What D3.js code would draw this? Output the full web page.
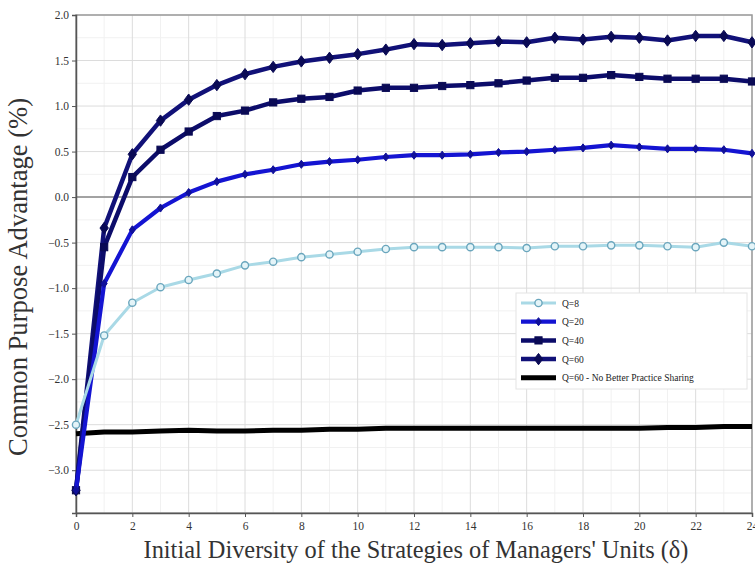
<!DOCTYPE html>
<html>
<head>
<meta charset="utf-8">
<script src="https://cdn.jsdelivr.net/npm/d3@7"></script>
<style>
  body { margin: 0; background: #fff; }
  svg { display: block; font-family: "Liberation Serif", "DejaVu Serif", serif; }
</style>
</head>
<body>
<svg id="chart" width="755" height="565"></svg>
<script>
// Initial diversity δ (x axis)
const delta = d3.range(0, 25);

// Common purpose advantage (%) per number of managers Q
const q8  = [-2.50, -1.52, -1.16, -0.99, -0.91, -0.84, -0.75, -0.71, -0.66, -0.63, -0.60, -0.57, -0.55,
             -0.55, -0.55, -0.55, -0.56, -0.54, -0.54, -0.53, -0.53, -0.54, -0.55, -0.50, -0.54];
const q20 = [-3.22, -0.95, -0.36, -0.12, 0.05, 0.17, 0.25, 0.30, 0.36, 0.39, 0.41, 0.44, 0.46,
             0.46, 0.47, 0.49, 0.50, 0.52, 0.54, 0.57, 0.55, 0.53, 0.53, 0.52, 0.48];
const q40 = [-3.22, -0.55, 0.22, 0.52, 0.72, 0.89, 0.95, 1.04, 1.08, 1.10, 1.17, 1.20, 1.20,
             1.22, 1.23, 1.25, 1.28, 1.31, 1.31, 1.34, 1.32, 1.30, 1.30, 1.30, 1.27];
const q60 = [-3.22, -0.34, 0.47, 0.84, 1.07, 1.23, 1.35, 1.43, 1.49, 1.53, 1.57, 1.62, 1.68,
             1.67, 1.69, 1.71, 1.70, 1.75, 1.73, 1.76, 1.75, 1.72, 1.77, 1.77, 1.70];
const q60NoSharing = [-2.60, -2.58, -2.58, -2.57, -2.56, -2.57, -2.57, -2.56, -2.56, -2.55, -2.55, -2.54, -2.54,
             -2.54, -2.54, -2.54, -2.54, -2.54, -2.54, -2.54, -2.54, -2.53, -2.53, -2.52, -2.52];

const xTicks = d3.range(0, 25, 2);
const yTicks = [-3.0, -2.5, -2.0, -1.5, -1.0, -0.5, 0.0, 0.5, 1.0, 1.5, 2.0];

const seriesNames = ["Q=8", "Q=20", "Q=40", "Q=60", "Q=60 - No Better Practice Sharing"];

const series = [
  { name: seriesNames[0], values: q8,  color: "#a9d9e6", width: 3,   marker: "circle",  mfill: "#e4f4f8", mstroke: "#6aa6bd", msize: 3.6 },
  { name: seriesNames[1], values: q20, color: "#1414d2", width: 4.2, marker: "diamond", mfill: "#10109a", mstroke: "#10109a", msize: 3 },
  { name: seriesNames[2], values: q40, color: "#0c0c6a", width: 4.5, marker: "square",  mfill: "#0a0a55", mstroke: "#0a0a55", msize: 3.6 },
  { name: seriesNames[3], values: q60, color: "#111178", width: 4.5, marker: "diamond", mfill: "#0a0a55", mstroke: "#0a0a55", msize: 4.2 },
  { name: seriesNames[4], values: q60NoSharing, color: "#000000", width: 5, marker: null }
];

const svg = d3.select("#chart");
const margin = { left: 76, right: 3, top: 15, bottom: 52 };
const W = 755, H = 565;

const x = d3.scaleLinear().domain([0, 24]).range([margin.left, W - margin.right]);
const y = d3.scaleLinear().domain([-3.47, 2.0]).range([H - margin.bottom, margin.top]);

// Minor grid
const g = svg.append("g");
g.selectAll("line.vminor").data(d3.range(1, 24, 2)).join("line")
  .attr("x1", d => x(d)).attr("x2", d => x(d))
  .attr("y1", y.range()[0]).attr("y2", y.range()[1])
  .attr("stroke", "#f1f1f1").attr("stroke-width", 1);
g.selectAll("line.hminor").data(d3.range(-3.25, 2.0, 0.5)).join("line")
  .attr("x1", x.range()[0]).attr("x2", x.range()[1])
  .attr("y1", d => y(d)).attr("y2", d => y(d))
  .attr("stroke", "#f1f1f1").attr("stroke-width", 1);

// Major grid
g.selectAll("line.vmajor").data(xTicks).join("line")
  .attr("x1", d => x(d)).attr("x2", d => x(d))
  .attr("y1", y.range()[0]).attr("y2", y.range()[1])
  .attr("stroke", "#dcdcdc").attr("stroke-width", 1);
g.selectAll("line.hmajor").data(yTicks).join("line")
  .attr("x1", x.range()[0]).attr("x2", x.range()[1])
  .attr("y1", d => y(d)).attr("y2", d => y(d))
  .attr("stroke", "#dcdcdc").attr("stroke-width", 1);

// Zero reference line
g.append("line")
  .attr("x1", x.range()[0]).attr("x2", x.range()[1])
  .attr("y1", y(0)).attr("y2", y(0))
  .attr("stroke", "#8a8a8a").attr("stroke-width", 1.5);

// Plot frame
svg.append("rect")
  .attr("x", x.range()[0]).attr("y", y.range()[1])
  .attr("width", x.range()[1] - x.range()[0])
  .attr("height", y.range()[0] - y.range()[1])
  .attr("fill", "none").attr("stroke", "#9a9a9a").attr("stroke-width", 1.5);

// Axes
const xAxis = svg.append("g")
  .attr("transform", `translate(0,${y.range()[0]})`)
  .call(d3.axisBottom(x).tickValues(xTicks).tickSize(4).tickPadding(5).tickFormat(d3.format("d")));
const yAxis = svg.append("g")
  .attr("transform", `translate(${x.range()[0]},0)`)
  .call(d3.axisLeft(y).tickValues(yTicks).tickSize(4).tickPadding(3).tickFormat(d3.format(".1f")));
[xAxis, yAxis].forEach(a => {
  a.attr("font-family", null);
  a.select(".domain").attr("stroke", "#555").attr("stroke-width", 1.5);
  a.selectAll(".tick line").attr("stroke", "#555");
  a.selectAll(".tick text").attr("fill", "#333")
    .style("font-family", "'Liberation Serif', serif").style("font-size", "11.5px");
});

// Series lines and markers
const line = d3.line().x((d, i) => x(delta[i])).y(d => y(d));

function drawMarker(sel, s, cx, cy) {
  const r = s.msize;
  if (s.marker === "circle") {
    sel.append("circle").attr("cx", cx).attr("cy", cy).attr("r", r)
      .attr("fill", s.mfill).attr("stroke", s.mstroke).attr("stroke-width", 1.4);
  } else if (s.marker === "square") {
    sel.append("rect").attr("x", cx - r).attr("y", cy - r).attr("width", 2 * r).attr("height", 2 * r)
      .attr("fill", s.mfill).attr("stroke", s.mstroke).attr("stroke-width", 1);
  } else if (s.marker === "diamond") {
    sel.append("path")
      .attr("d", `M${cx},${cy - r * 1.35}L${cx + r},${cy}L${cx},${cy + r * 1.35}L${cx - r},${cy}Z`)
      .attr("fill", s.mfill).attr("stroke", s.mstroke).attr("stroke-width", 1);
  }
}

const plot = svg.append("g");
series.slice().reverse().forEach(s => {
  const gs = plot.append("g");
  gs.append("path").datum(s.values)
    .attr("d", line)
    .attr("fill", "none").attr("stroke", s.color)
    .attr("stroke-width", s.width).attr("stroke-linejoin", "round");
  if (s.marker) {
    s.values.forEach((v, i) => drawMarker(gs, s, x(delta[i]), y(v)));
  }
});

// Legend
const lg = svg.append("g").attr("transform", "translate(516,293)");
lg.append("rect").attr("width", 231).attr("height", 96)
  .attr("fill", "#fff").attr("stroke", "#e4e4e4").attr("stroke-width", 1);
series.forEach((s, i) => {
  const yy = 10 + i * 18.7;
  const row = lg.append("g");
  row.append("line").attr("x1", 5).attr("x2", 40).attr("y1", yy).attr("y2", yy)
    .attr("stroke", s.color).attr("stroke-width", s.width);
  if (s.marker) drawMarker(row, s, 22.5, yy);
  row.append("text").attr("x", 46).attr("y", yy + 3.5)
    .style("font-size", "9.5px").attr("fill", "#222").text(s.name);
});

// Axis titles, sized to span their target lengths
function fitText(t, target) {
  const base = 20;
  t.style("font-size", base + "px");
  const len = t.node().getComputedTextLength();
  t.style("font-size", (base * target / len).toFixed(2) + "px");
}
const xt = svg.append("text")
  .attr("x", 416).attr("y", 558)
  .attr("text-anchor", "middle").attr("fill", "#333")
  .text("Initial Diversity of the Strategies of Managers' Units (δ)");
fitText(xt, 545);
const yt = svg.append("text")
  .attr("transform", "translate(27,277) rotate(-90)")
  .attr("text-anchor", "middle").attr("fill", "#333")
  .text("Common Purpose Advantage (%)");
fitText(yt, 358);
</script>
</body>
</html>
